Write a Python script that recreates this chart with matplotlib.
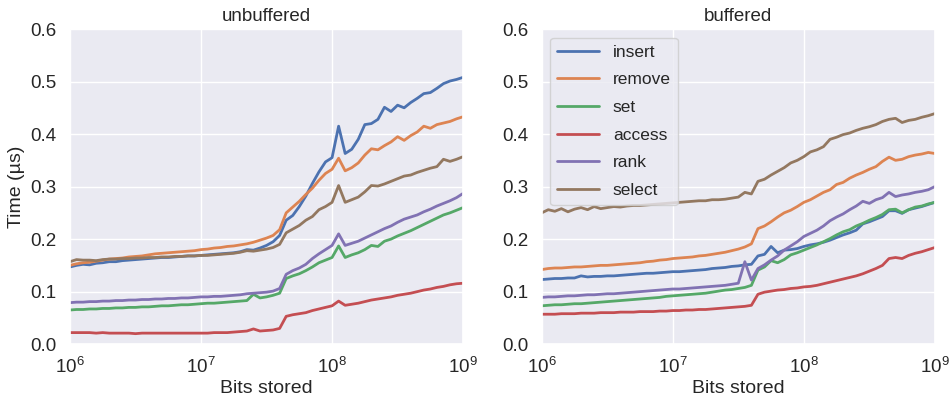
import numpy as np
import matplotlib
matplotlib.use("Agg")
import matplotlib.pyplot as plt
import seaborn as sns

sns.set_theme(style="darkgrid")
plt.rcParams['font.family'] = ['Liberation Sans', 'DejaVu Sans']

# sample sizes: 20 points per decade from 1e6 to 1e9
bits = np.logspace(6, 9, 61)

labels = ["insert", "remove", "set", "access", "rank", "select"]

# unbuffered timings (us)
unbuf_insert = [
    0.147, 0.150, 0.152, 0.151, 0.154, 0.155, 0.157, 0.157, 0.159, 0.160,
    0.161, 0.162, 0.163, 0.164, 0.165, 0.165, 0.166, 0.167, 0.168, 0.168,
    0.169, 0.170, 0.171, 0.172, 0.173, 0.174, 0.176, 0.180, 0.179, 0.183,
    0.188, 0.195, 0.207, 0.236, 0.245, 0.262, 0.282, 0.306, 0.328, 0.347,
    0.355, 0.415, 0.363, 0.371, 0.390, 0.418, 0.420, 0.428, 0.451, 0.443,
    0.455, 0.450, 0.460, 0.468, 0.477, 0.479, 0.487, 0.496, 0.501, 0.504,
    0.508]
unbuf_remove = [
    0.150, 0.153, 0.155, 0.156, 0.158, 0.160, 0.162, 0.163, 0.164, 0.166,
    0.167, 0.168, 0.170, 0.172, 0.173, 0.174, 0.175, 0.176, 0.177, 0.178,
    0.180, 0.181, 0.183, 0.184, 0.186, 0.187, 0.189, 0.191, 0.194, 0.198,
    0.202, 0.207, 0.218, 0.250, 0.261, 0.272, 0.285, 0.297, 0.312, 0.325,
    0.333, 0.354, 0.330, 0.336, 0.345, 0.360, 0.372, 0.370, 0.378, 0.385,
    0.395, 0.388, 0.397, 0.404, 0.415, 0.411, 0.418, 0.421, 0.424, 0.429,
    0.433]
unbuf_set = [
    0.065, 0.066, 0.066, 0.067, 0.067, 0.068, 0.068, 0.069, 0.069, 0.070,
    0.070, 0.071, 0.071, 0.072, 0.073, 0.073, 0.074, 0.075, 0.075, 0.076,
    0.077, 0.078, 0.078, 0.079, 0.080, 0.081, 0.082, 0.083, 0.095, 0.088,
    0.090, 0.093, 0.097, 0.125, 0.130, 0.134, 0.140, 0.147, 0.155, 0.160,
    0.165, 0.187, 0.165, 0.170, 0.174, 0.180, 0.188, 0.186, 0.196, 0.200,
    0.206, 0.211, 0.216, 0.222, 0.228, 0.234, 0.240, 0.246, 0.250, 0.255,
    0.260]
unbuf_access = [
    0.022, 0.022, 0.022, 0.022, 0.021, 0.022, 0.021, 0.021, 0.021, 0.021,
    0.020, 0.021, 0.021, 0.021, 0.021, 0.021, 0.021, 0.021, 0.021, 0.021,
    0.021, 0.021, 0.022, 0.022, 0.022, 0.023, 0.024, 0.025, 0.029, 0.025,
    0.026, 0.027, 0.030, 0.053, 0.056, 0.058, 0.060, 0.064, 0.067, 0.070,
    0.073, 0.082, 0.074, 0.076, 0.078, 0.081, 0.084, 0.086, 0.088, 0.090,
    0.093, 0.095, 0.097, 0.100, 0.103, 0.105, 0.108, 0.110, 0.113, 0.115,
    0.116]
unbuf_rank = [
    0.079, 0.080, 0.080, 0.081, 0.081, 0.082, 0.082, 0.083, 0.083, 0.084,
    0.084, 0.085, 0.085, 0.086, 0.086, 0.087, 0.087, 0.088, 0.088, 0.089,
    0.090, 0.090, 0.091, 0.091, 0.092, 0.093, 0.094, 0.096, 0.097, 0.098,
    0.099, 0.101, 0.106, 0.133, 0.140, 0.145, 0.152, 0.163, 0.172, 0.180,
    0.188, 0.210, 0.188, 0.192, 0.196, 0.202, 0.208, 0.214, 0.220, 0.225,
    0.232, 0.238, 0.242, 0.246, 0.252, 0.257, 0.263, 0.268, 0.273, 0.279,
    0.287]
unbuf_select = [
    0.157, 0.161, 0.160, 0.160, 0.159, 0.161, 0.162, 0.162, 0.163, 0.163,
    0.164, 0.164, 0.165, 0.165, 0.166, 0.166, 0.167, 0.167, 0.168, 0.168,
    0.169, 0.169, 0.170, 0.171, 0.172, 0.173, 0.175, 0.178, 0.177, 0.179,
    0.181, 0.184, 0.190, 0.212, 0.219, 0.226, 0.236, 0.243, 0.256, 0.262,
    0.270, 0.302, 0.270, 0.275, 0.280, 0.290, 0.302, 0.301, 0.305, 0.310,
    0.315, 0.320, 0.322, 0.327, 0.331, 0.335, 0.338, 0.352, 0.348, 0.352,
    0.357]

# buffered timings (us)
buf_insert = [
    0.123, 0.124, 0.125, 0.125, 0.126, 0.126, 0.130, 0.128, 0.129, 0.129,
    0.130, 0.130, 0.131, 0.132, 0.133, 0.134, 0.135, 0.135, 0.136, 0.137,
    0.138, 0.138, 0.139, 0.140, 0.141, 0.142, 0.144, 0.145, 0.146, 0.148,
    0.149, 0.151, 0.152, 0.168, 0.171, 0.186, 0.174, 0.179, 0.180, 0.182,
    0.186, 0.189, 0.191, 0.194, 0.198, 0.203, 0.208, 0.212, 0.217, 0.229,
    0.233, 0.238, 0.243, 0.254, 0.254, 0.249, 0.256, 0.259, 0.262, 0.266,
    0.270]
buf_remove = [
    0.142, 0.144, 0.145, 0.145, 0.146, 0.147, 0.147, 0.148, 0.149, 0.150,
    0.150, 0.151, 0.152, 0.153, 0.154, 0.155, 0.157, 0.158, 0.160, 0.161,
    0.163, 0.164, 0.165, 0.166, 0.168, 0.169, 0.171, 0.173, 0.175, 0.178,
    0.181, 0.185, 0.191, 0.220, 0.225, 0.233, 0.242, 0.250, 0.255, 0.262,
    0.270, 0.275, 0.282, 0.289, 0.294, 0.304, 0.308, 0.316, 0.322, 0.327,
    0.333, 0.338, 0.348, 0.356, 0.350, 0.352, 0.357, 0.360, 0.362, 0.365,
    0.363]
buf_set = [
    0.073, 0.074, 0.075, 0.075, 0.076, 0.077, 0.077, 0.078, 0.079, 0.080,
    0.081, 0.082, 0.083, 0.084, 0.085, 0.086, 0.087, 0.088, 0.089, 0.091,
    0.092, 0.093, 0.094, 0.095, 0.096, 0.097, 0.099, 0.101, 0.103, 0.104,
    0.106, 0.108, 0.112, 0.141, 0.147, 0.159, 0.155, 0.161, 0.170, 0.174,
    0.179, 0.184, 0.189, 0.195, 0.201, 0.208, 0.214, 0.218, 0.225, 0.230,
    0.236, 0.241, 0.247, 0.256, 0.257, 0.250, 0.256, 0.261, 0.263, 0.267,
    0.270]
buf_access = [
    0.057, 0.057, 0.057, 0.058, 0.058, 0.058, 0.059, 0.059, 0.059, 0.060,
    0.060, 0.060, 0.061, 0.061, 0.061, 0.062, 0.062, 0.062, 0.063, 0.063,
    0.064, 0.064, 0.065, 0.065, 0.066, 0.066, 0.067, 0.068, 0.069, 0.070,
    0.071, 0.072, 0.074, 0.095, 0.099, 0.101, 0.103, 0.104, 0.106, 0.107,
    0.109, 0.110, 0.112, 0.115, 0.118, 0.121, 0.124, 0.127, 0.130, 0.134,
    0.139, 0.144, 0.150, 0.163, 0.165, 0.163, 0.169, 0.173, 0.176, 0.180,
    0.184]
buf_rank = [
    0.089, 0.090, 0.090, 0.091, 0.092, 0.092, 0.093, 0.094, 0.094, 0.095,
    0.096, 0.096, 0.097, 0.098, 0.099, 0.100, 0.101, 0.102, 0.103, 0.104,
    0.105, 0.105, 0.106, 0.107, 0.108, 0.109, 0.110, 0.111, 0.112, 0.114,
    0.116, 0.157, 0.122, 0.144, 0.151, 0.160, 0.168, 0.179, 0.187, 0.195,
    0.205, 0.211, 0.217, 0.225, 0.235, 0.242, 0.248, 0.256, 0.263, 0.272,
    0.268, 0.275, 0.279, 0.289, 0.281, 0.284, 0.286, 0.289, 0.291, 0.294,
    0.300]
buf_select = [
    0.250, 0.256, 0.253, 0.258, 0.252, 0.257, 0.260, 0.256, 0.262, 0.258,
    0.260, 0.262, 0.261, 0.263, 0.264, 0.264, 0.265, 0.266, 0.267, 0.268,
    0.269, 0.270, 0.271, 0.272, 0.273, 0.273, 0.275, 0.275, 0.276, 0.278,
    0.280, 0.289, 0.286, 0.310, 0.314, 0.322, 0.329, 0.336, 0.345, 0.350,
    0.357, 0.366, 0.370, 0.376, 0.390, 0.394, 0.399, 0.402, 0.407, 0.411,
    0.414, 0.418, 0.424, 0.428, 0.430, 0.422, 0.426, 0.428, 0.432, 0.435,
    0.439]

unbuffered = [unbuf_insert, unbuf_remove, unbuf_set, unbuf_access, unbuf_rank, unbuf_select]
buffered = [buf_insert, buf_remove, buf_set, buf_access, buf_rank, buf_select]

fig, axes = plt.subplots(1, 2, figsize=(9.52, 4.03), dpi=100)
fig.subplots_adjust(left=0.0735, right=0.982, bottom=0.146, top=0.928, wspace=0.2)

for ax, series, title in zip(axes, [unbuffered, buffered], ["unbuffered", "buffered"]):
    for y, lab in zip(series, labels):
        ax.plot(bits, y, label=lab, lw=2)
    ax.set_xscale('log')
    ax.set_xlim(1e6, 1e9)
    ax.set_ylim(0, 0.6)
    ax.set_title(title, fontsize=13.5)
    ax.set_xlabel('Bits stored', fontsize=14, labelpad=2)
    ax.tick_params(labelsize=13.5)

axes[0].set_ylabel('Time (µs)', fontsize=14)
axes[1].legend(loc='upper left', fontsize=12.5, handlelength=2.4, labelspacing=0.72)

plt.savefig('out.png')
